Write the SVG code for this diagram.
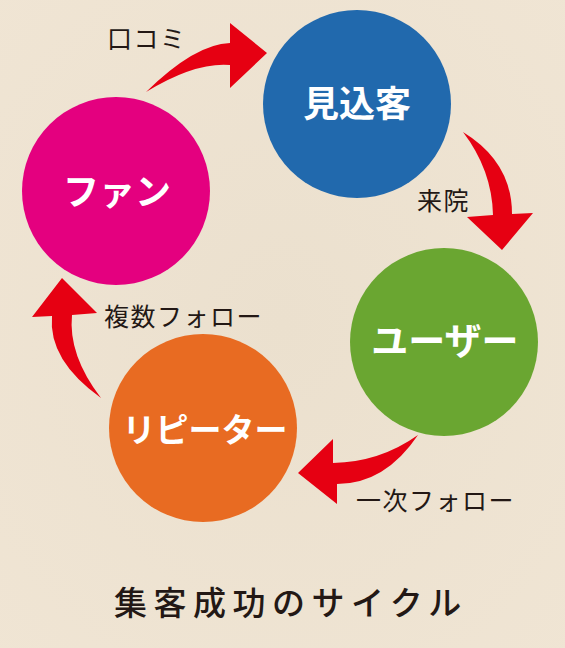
<svg xmlns="http://www.w3.org/2000/svg" width="565" height="648" viewBox="0 0 565 648">
  <defs>
    <radialGradient id="bg" cx="0.5" cy="0.5" r="0.75">
      <stop offset="0" stop-color="#EBE0CE"/>
      <stop offset="1" stop-color="#F0E5D4"/>
    </radialGradient>
  </defs>
  <style>
    .node-label { font-family: "Noto Sans CJK JP", "Noto Sans", sans-serif; font-weight: 700; fill: #FFFFFF; text-anchor: middle; }
    .edge-label { font-family: "Noto Sans CJK JP", "Noto Sans", sans-serif; font-weight: 400; fill: #231815; font-size: 25px; letter-spacing: 1.5px; }
    .arrow { fill: #E60012; }
    .title { font-family: "Noto Sans CJK JP", "Noto Sans", sans-serif; font-weight: 500; fill: #231815; font-size: 33px; letter-spacing: 6.5px; }
  </style>
  <rect x="0" y="0" width="565" height="648" fill="url(#bg)"/>

  <g id="connectors">
    <path class="arrow" d="M146,92 Q195,44 230,43 L230,23 L267,53 L230,88 L230,65 Q195,62 146,92 Z"/>
    <path class="arrow" d="M463,132 Q512,162 512,214 L533,213 L502,250 L467,217 L493,215 Q492,170 463,132 Z"/>
    <path class="arrow" d="M418,435 Q385,484 337,484 L337,504 L298,473 L333,439 L333,463 Q380,462 418,435 Z"/>
    <path class="arrow" d="M101,398 Q48,360 52,316 L32,317 L62,278 L97,313 L72,315 Q68,355 101,398 Z"/>
    <text class="edge-label" x="107" y="48">口コミ</text>
    <text class="edge-label" x="417" y="210">来院</text>
    <text class="edge-label" x="356" y="510">一次フォロー</text>
    <text class="edge-label" x="104" y="326">複数フォロー</text>
  </g>

  <g id="node-mikomi">
    <circle cx="357" cy="104" r="94" fill="#2169AD"/>
    <text class="node-label" x="357" y="117" font-size="36">見込客</text>
  </g>
  <g id="node-fan">
    <circle cx="116" cy="191" r="94" fill="#E4007F"/>
    <text class="node-label" x="117" y="205" font-size="36">ファン</text>
  </g>
  <g id="node-user">
    <circle cx="444" cy="342" r="94" fill="#6AA631"/>
    <text class="node-label" x="445" y="355" font-size="37">ユーザー</text>
  </g>
  <g id="node-repeater">
    <circle cx="203" cy="428" r="94" fill="#E86B22"/>
    <text class="node-label" x="205" y="442" font-size="33">リピーター</text>
  </g>

  <text class="title" x="114" y="615">集客成功のサイクル</text>
</svg>
